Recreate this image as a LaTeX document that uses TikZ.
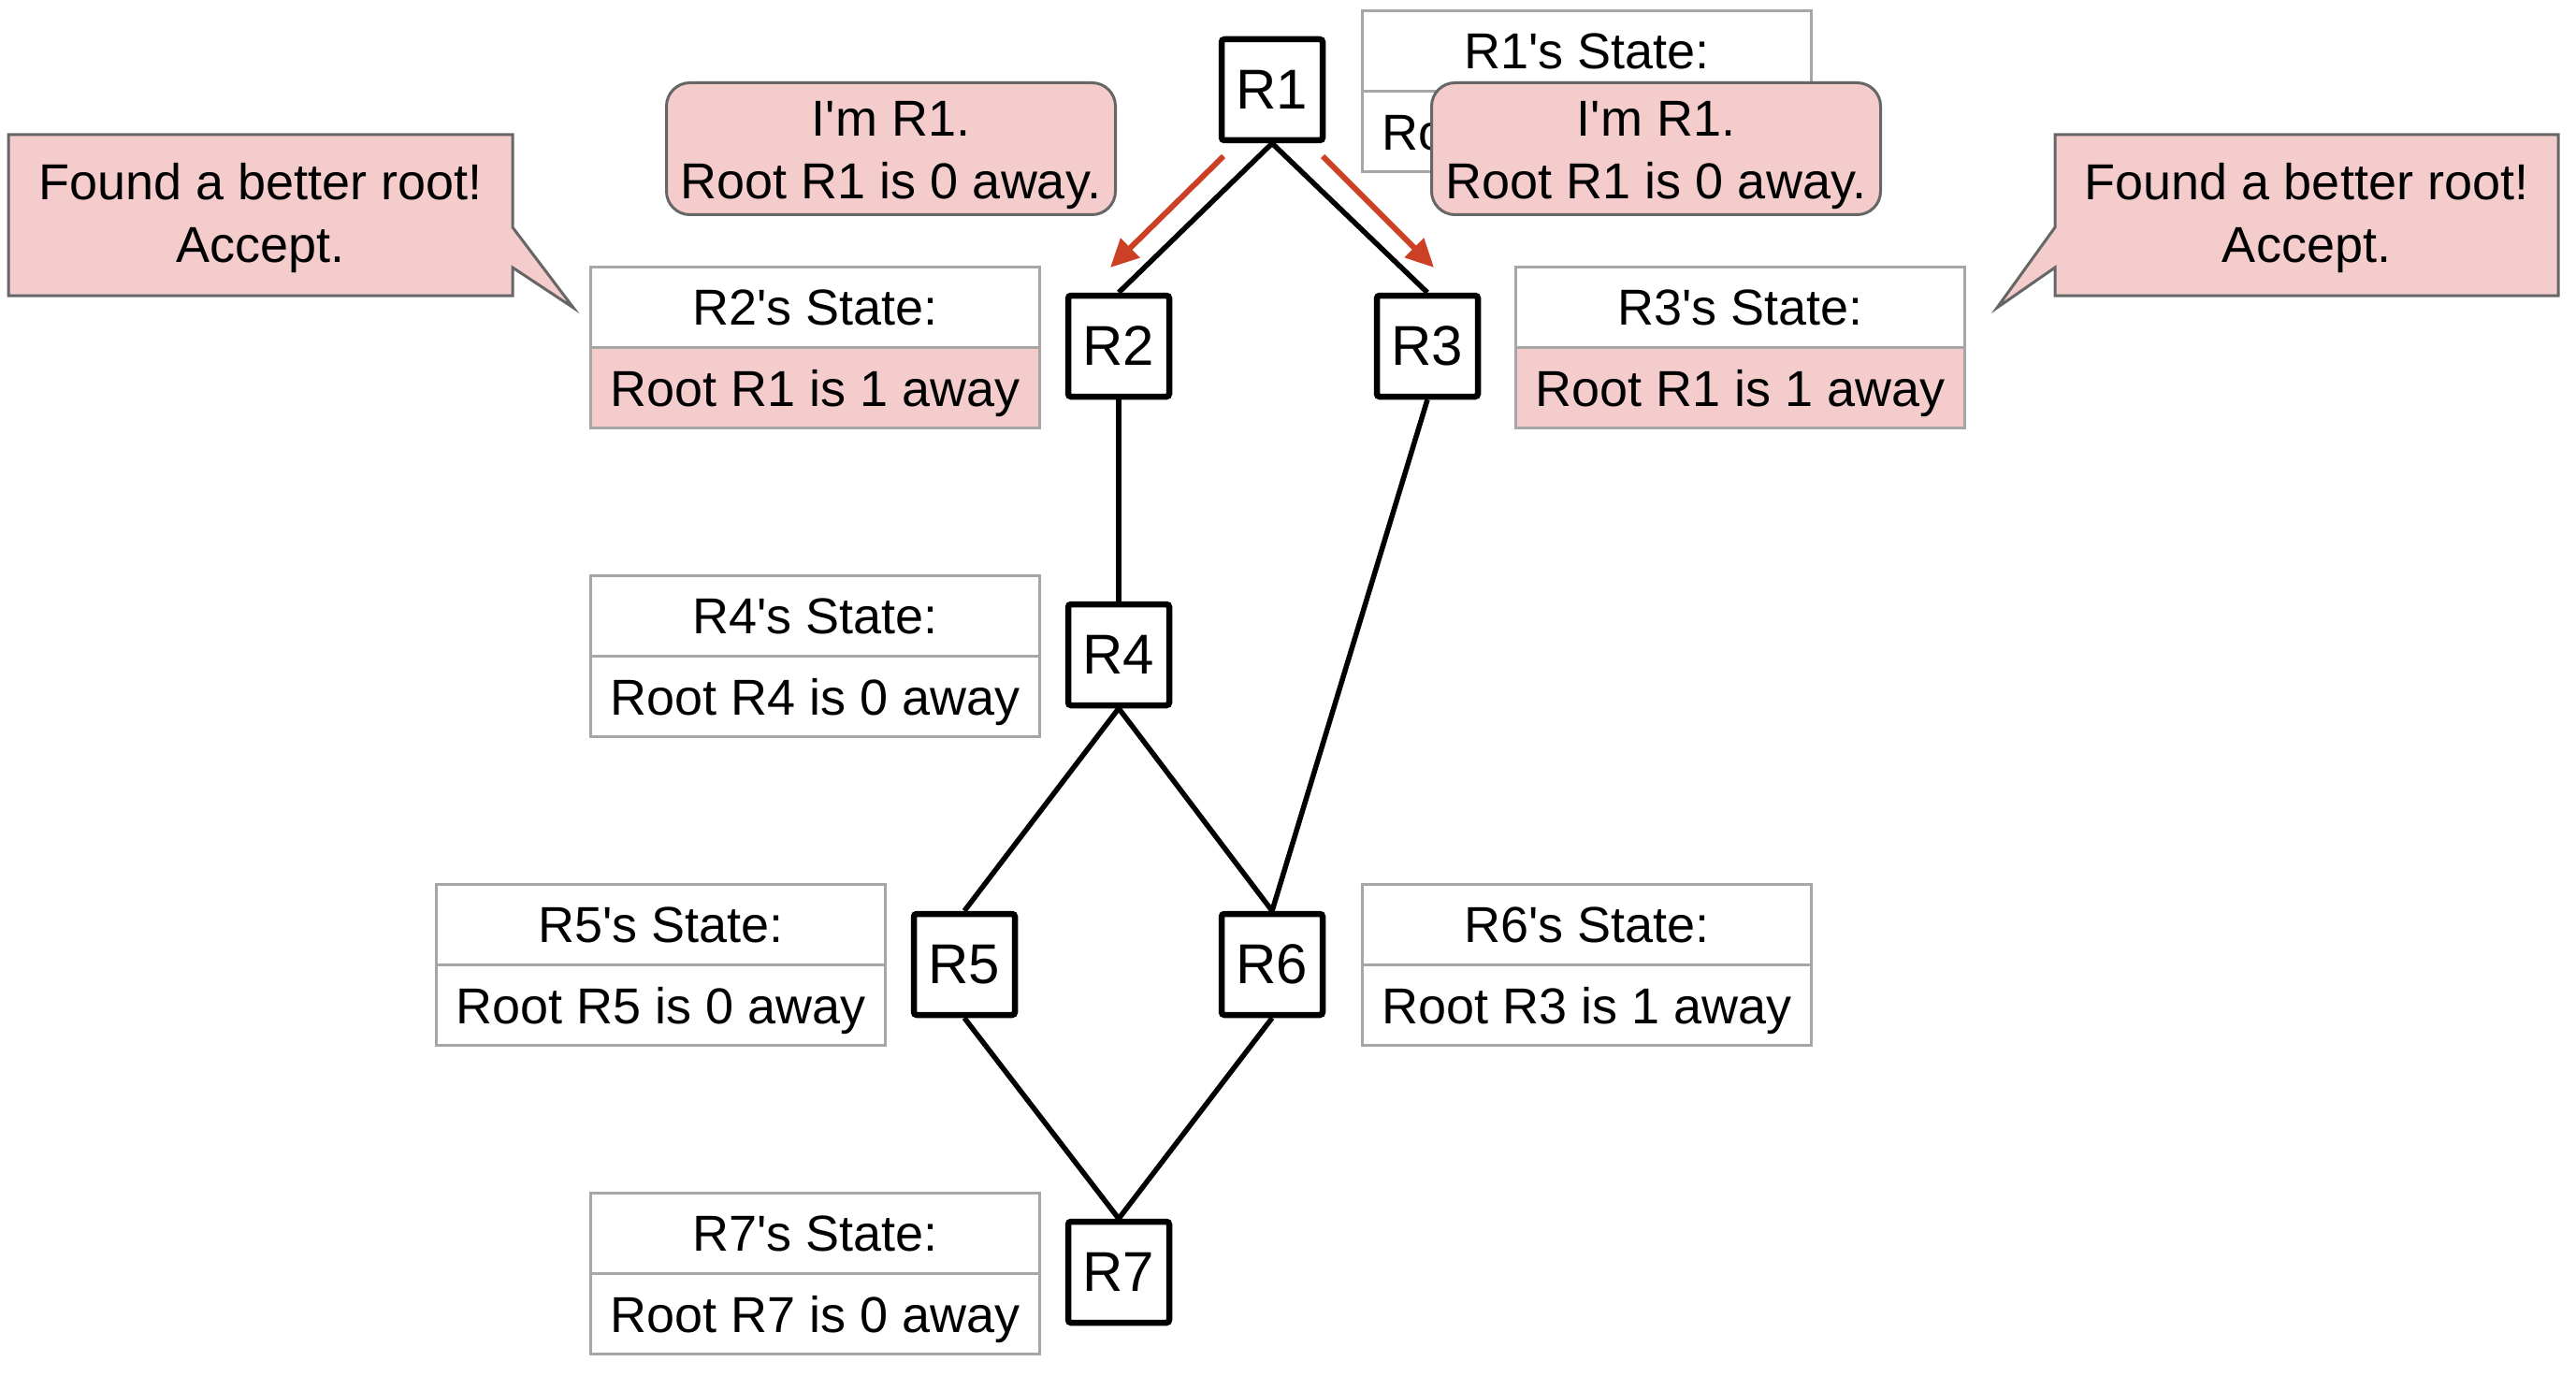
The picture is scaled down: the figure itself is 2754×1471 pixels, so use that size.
\documentclass[tikz,border=0pt]{standalone}
\usepackage{fontspec}
\newfontfamily\lib{Liberation Sans}
\usetikzlibrary{arrows.meta}
\definecolor{pinkfill}{HTML}{F4CCCC}
\definecolor{redarrow}{HTML}{CC4125}
\definecolor{stategray}{HTML}{A6A6A6}
\definecolor{callgray}{HTML}{666666}
\begin{document}
\begin{tikzpicture}[x=1pt,y=-1pt,
  router/.style={draw=black, line width=6.5pt, fill=white, minimum width=108pt, minimum height=108pt, rounded corners=3pt, font=\lib\fontsize{60}{66}\selectfont, inner sep=0pt},
  link/.style={line width=5.5pt, draw=black},
  cell/.style={draw=stategray, line width=3pt, fill=white, minimum width=480pt, minimum height=86pt, inner sep=0pt, text depth=0pt, font=\lib\fontsize{54}{60}\selectfont, anchor=north west},
  hotcell/.style={cell, fill=pinkfill},
  bubble/.style={draw=callgray, line width=3pt, fill=pinkfill, rounded corners=25pt, minimum width=480pt, minimum height=141pt, align=center, inner sep=0pt, text depth=0pt, font=\lib\fontsize{54}{67}\selectfont},
  callout/.style={draw=callgray, line width=3pt, fill=pinkfill, line join=miter},
  callouttext/.style={align=center, inner sep=0pt, font=\lib\fontsize{54}{67}\selectfont},
  msg/.style={draw=redarrow, line width=6pt, -{Triangle[length=30pt,width=28pt]}}
]
\useasboundingbox (0,0) rectangle (2754,1471);

% state boxes
\node[cell] (s1a) at (1455,10) {R1's State:};
\node[cell] (s1b) at (1455,96) {Root R1 is 0 away};
\node[cell] (s2a) at (630,284) {R2's State:};
\node[hotcell] (s2b) at (630,370) {Root R1 is 1 away};
\node[cell] (s3a) at (1619,284) {R3's State:};
\node[hotcell] (s3b) at (1619,370) {Root R1 is 1 away};
\node[cell] (s4a) at (630,614) {R4's State:};
\node[cell] (s4b) at (630,700) {Root R4 is 0 away};
\node[cell] (s5a) at (465,944) {R5's State:};
\node[cell] (s5b) at (465,1030) {Root R5 is 0 away};
\node[cell] (s6a) at (1455,944) {R6's State:};
\node[cell] (s6b) at (1455,1030) {Root R3 is 1 away};
\node[cell] (s7a) at (630,1274) {R7's State:};
\node[cell] (s7b) at (630,1360) {Root R7 is 0 away};

% message bubbles
\node[bubble] (b2) at (952.5,159) {\raisebox{-3pt}{I'm R1.}\\\raisebox{-3pt}{Root R1 is 0 away.}};
\node[bubble] (b3) at (1770.5,159) {\raisebox{-3pt}{I'm R1.}\\\raisebox{-3pt}{Root R1 is 0 away.}};

% callouts
\draw[callout] (9,144) -- (548,144) -- (548,243) -- (613,329) -- (548,286) -- (548,316) -- (9,316) -- cycle;
\node[callouttext] (c2) at (278.5,233) {Found a better root!\\Accept.};
\draw[callout] (2735,144) -- (2197,144) -- (2197,243) -- (2135,329) -- (2197,286) -- (2197,316) -- (2735,316) -- cycle;
\node[callouttext] (c3) at (2466,233) {Found a better root!\\Accept.};

% routers
\node[router] (r1) at (1360,96) {R1};
\node[router] (r2) at (1196,370) {R2};
\node[router] (r3) at (1526,370) {R3};
\node[router] (r4) at (1196,700) {R4};
\node[router] (r5) at (1031,1031) {R5};
\node[router] (r6) at (1360,1031) {R6};
\node[router] (r7) at (1196,1360) {R7};

% links
\draw[link] (r1.south) -- (r2.north);
\draw[link] (r1.south) -- (r3.north);
\draw[link] (r2.south) -- (r4.north);
\draw[link] (r3.south) -- (r6.north);
\draw[link] (r4.south) -- (r5.north);
\draw[link] (r4.south) -- (r6.north);
\draw[link] (r5.south) -- (r7.north);
\draw[link] (r6.south) -- (r7.north);

% messages
\coordinate (m2s) at (1308,167);
\coordinate (m2e) at (1187,286);
\coordinate (m3s) at (1414,167);
\coordinate (m3e) at (1533,286);
\draw[msg] (m2s) -- (m2e);
\draw[msg] (m3s) -- (m3e);
\end{tikzpicture}
\end{document}
